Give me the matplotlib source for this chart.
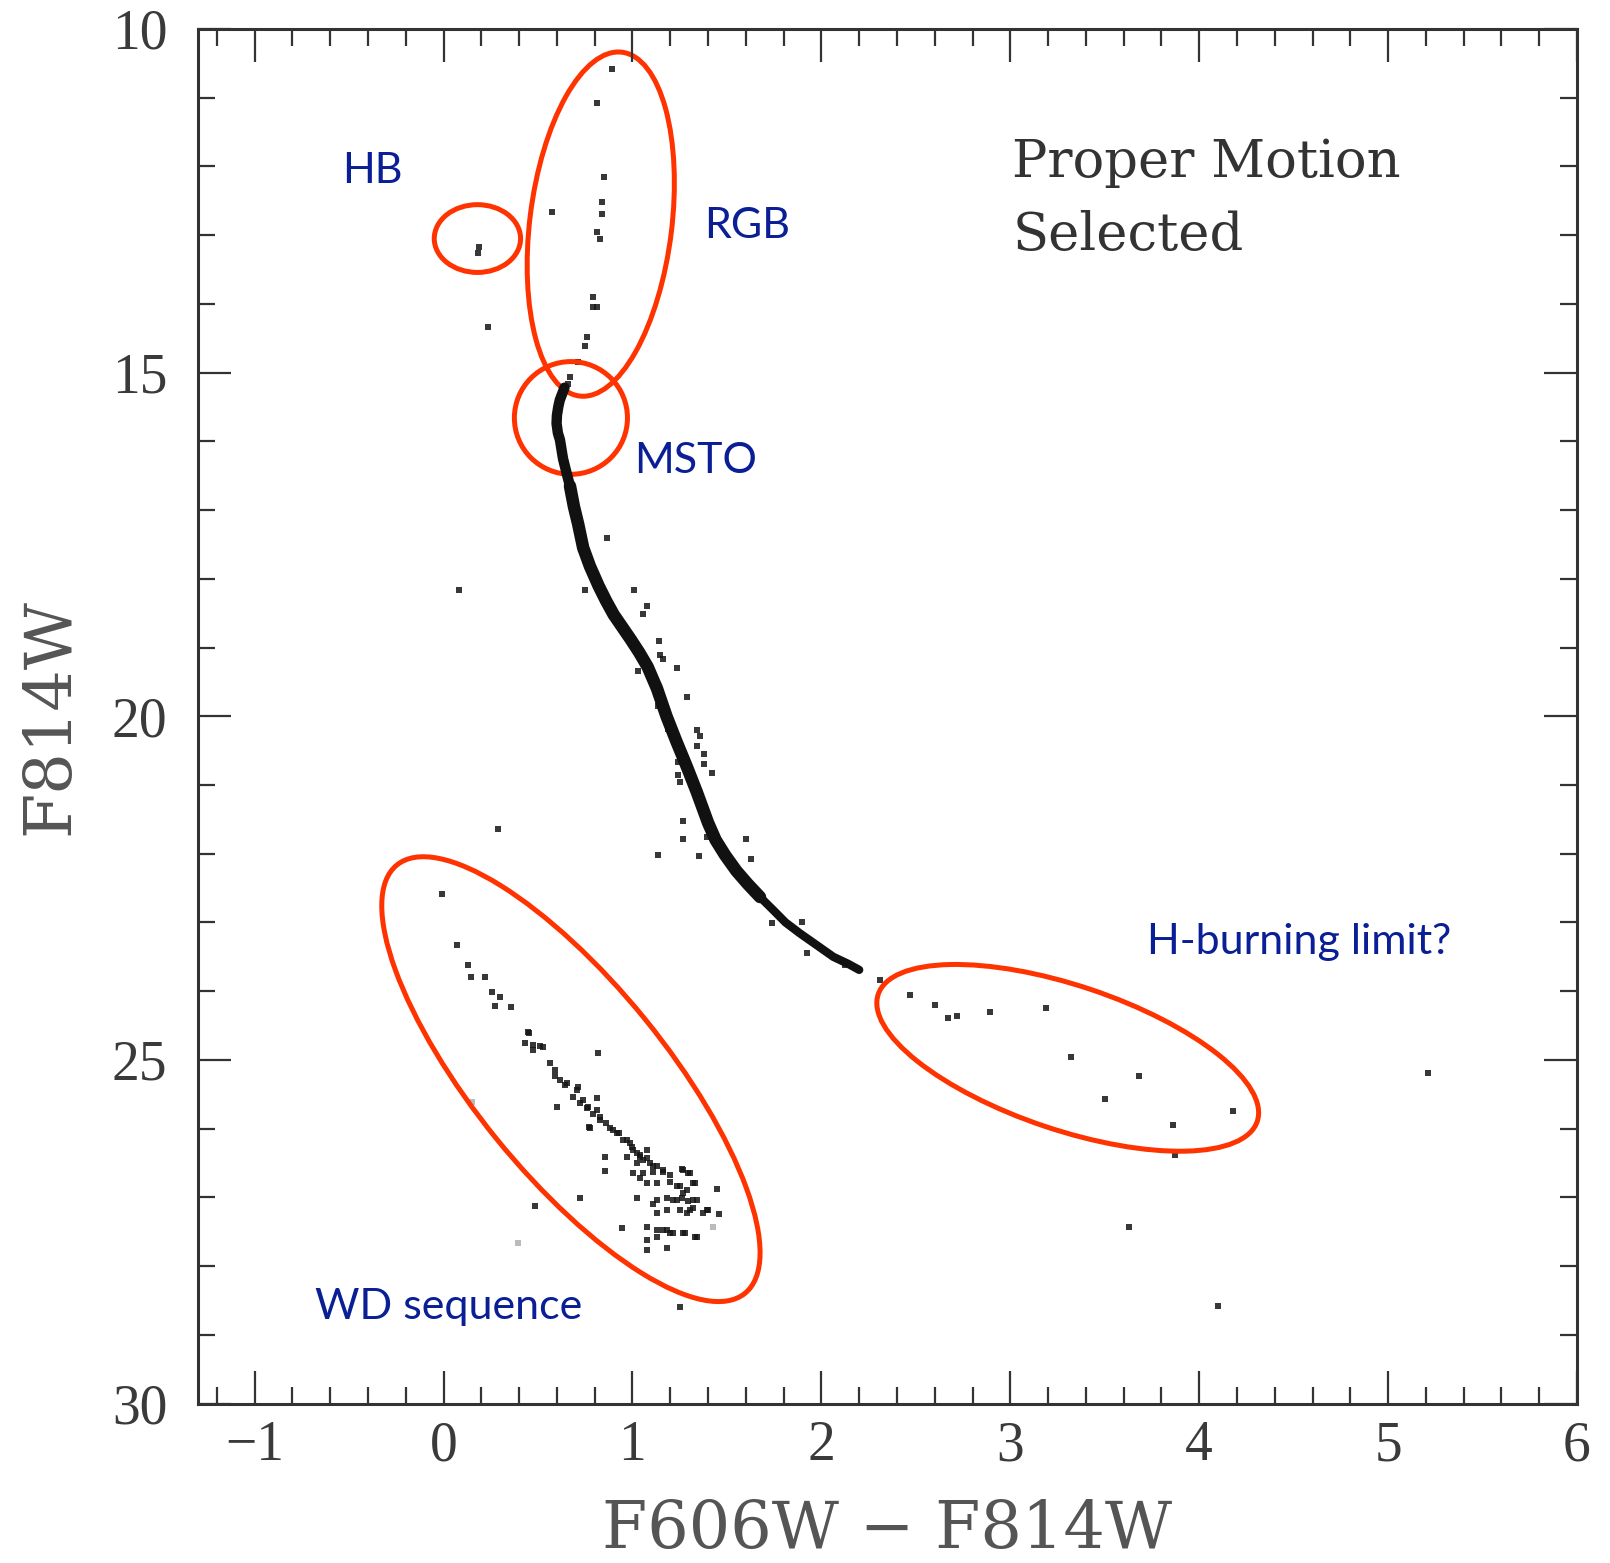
import matplotlib.pyplot as plt
import numpy as np
from matplotlib.patches import Ellipse

# (F606W - F814W, F814W) pairs for each group of stars
rgb_stars = [(0.89, 10.58), (0.81, 11.08), (0.849, 12.15), (0.84, 12.52), (0.837, 12.69),
             (0.81, 12.95), (0.83, 13.05), (0.572, 12.66), (0.793, 13.90), (0.793, 14.04),
             (0.81, 14.04), (0.758, 14.48), (0.749, 14.62), (0.713, 14.84), (0.669, 15.06),
             (0.66, 15.16)]
hb_stars = [(0.189, 13.17), (0.183, 13.26)]

# main-sequence ridge line (densely populated part)
ms_ridge = [(0.640, 15.22), (0.615, 15.40), (0.607, 15.50), (0.600, 15.62), (0.598, 15.74),
            (0.605, 15.88), (0.616, 15.98), (0.632, 16.25), (0.650, 16.45), (0.669, 16.65),
            (0.690, 16.95), (0.712, 17.20), (0.739, 17.55), (0.775, 17.82), (0.820, 18.10),
            (0.860, 18.32), (0.900, 18.52), (0.945, 18.70), (0.990, 18.88), (1.035, 19.07),
            (1.080, 19.28), (1.130, 19.60), (1.180, 20.00), (1.230, 20.35), (1.287, 20.73),
            (1.340, 21.10), (1.400, 21.55), (1.440, 21.80), (1.490, 22.02), (1.550, 22.25),
            (1.610, 22.44), (1.675, 22.63), (1.745, 22.82), (1.810, 23.00), (1.887, 23.16),
            (1.970, 23.32), (2.063, 23.50), (2.140, 23.60), (2.200, 23.69)]

ms_scatter = [(0.867, 17.40), (0.748, 18.16), (1.008, 18.16), (1.075, 18.40), (1.054, 18.51),
              (1.142, 18.90), (1.146, 19.11), (1.16, 19.17), (1.031, 19.34), (1.237, 19.30),
              (1.29, 19.72), (1.137, 19.85), (1.339, 20.20), (1.356, 20.29), (1.19, 20.18),
              (1.23, 20.44), (1.339, 20.44), (1.378, 20.55), (1.378, 20.69), (1.419, 20.83),
              (1.242, 20.66), (1.242, 20.86), (1.25, 20.95), (1.269, 21.53), (1.266, 21.79),
              (1.392, 21.76), (1.60, 21.79), (1.137, 22.02), (1.354, 22.03), (1.626, 22.08),
              (1.736, 23.01), (1.895, 22.99), (1.922, 23.45), (2.125, 23.62)]

# faint end of the main sequence
hbl_stars = [(2.31, 23.84), (2.47, 24.06), (2.60, 24.20), (2.67, 24.39), (2.72, 24.36),
             (2.89, 24.31), (3.19, 24.25), (3.32, 24.96), (3.68, 25.24), (3.50, 25.57),
             (4.18, 25.74), (3.86, 25.95), (3.87, 26.38)]

wd_stars = [(0.073, 23.33), (0.131, 23.62), (0.143, 23.80), (0.219, 23.79), (0.254, 24.01),
            (0.299, 24.08), (0.272, 24.21), (0.355, 24.23), (0.448, 24.60), (0.454, 24.61),
            (0.431, 24.76), (0.475, 24.78), (0.51, 24.80), (0.528, 24.81), (0.475, 24.86),
            (0.563, 25.05), (0.59, 25.15), (0.59, 25.24), (0.616, 25.29), (0.643, 25.36),
            (0.652, 25.34), (0.602, 25.69), (0.713, 25.40), (0.704, 25.44), (0.687, 25.54),
            (0.74, 25.58), (0.722, 25.63), (0.766, 25.68), (0.758, 25.70), (0.81, 25.73),
            (0.792, 25.78), (0.81, 25.56), (0.828, 25.83), (0.828, 25.87), (0.772, 25.97),
            (0.775, 25.99), (0.86, 25.92), (0.881, 25.99), (0.895, 26.02), (0.916, 26.06),
            (0.93, 26.07), (0.951, 26.16), (0.969, 26.17), (0.987, 26.21), (0.996, 26.26),
            (1.004, 26.31), (1.022, 26.36), (1.04, 26.38), (1.04, 26.41), (1.075, 26.43),
            (0.969, 26.41), (1.022, 26.50), (1.075, 26.31), (1.057, 26.46), (1.092, 26.50),
            (1.128, 26.55), (1.163, 26.60), (1.11, 26.55), (1.163, 26.63), (1.198, 26.67),
            (1.269, 26.60), (1.304, 26.65), (1.26, 26.59), (1.296, 26.64), (0.855, 26.41),
            (0.855, 26.61), (1.004, 26.65), (1.057, 26.65), (1.11, 26.63), (1.04, 26.72),
            (1.075, 26.79), (1.128, 26.79), (1.198, 26.77), (1.252, 26.84), (1.322, 26.79),
            (1.234, 26.84), (1.287, 26.89), (1.331, 26.79), (1.022, 27.01), (1.11, 27.09),
            (1.128, 27.04), (1.181, 27.01), (1.216, 27.04), (1.234, 27.04), (1.26, 27.01),
            (1.269, 26.94), (1.296, 27.06), (1.34, 27.04), (1.322, 27.04), (1.128, 27.23),
            (1.181, 27.18), (1.252, 27.18), (1.287, 27.23), (1.304, 27.18), (1.322, 27.16),
            (1.375, 27.23), (1.392, 27.18), (1.401, 27.18), (1.459, 27.24), (1.446, 26.88),
            (0.943, 27.45), (1.075, 27.43), (1.128, 27.48), (1.163, 27.48), (1.181, 27.48),
            (1.198, 27.52), (1.216, 27.52), (1.269, 27.52), (1.278, 27.52), (1.331, 27.57),
            (1.34, 27.57), (1.128, 27.57), (1.075, 27.62), (1.075, 27.77), (1.181, 27.74),
            (0.722, 27.01), (0.484, 27.12)]

field_stars = [(0.237, 14.33), (0.08, 18.17), (0.288, 21.64), (-0.01, 22.58), (0.819, 24.90),
               (5.21, 25.19), (3.63, 27.43), (4.10, 28.58), (1.252, 28.59)]
faint_stars = [(0.396, 27.67), (0.149, 25.61), (1.428, 27.43)]

x_major = np.arange(-1, 7, 1)
y_major = np.arange(10, 31, 5)

plt.rcParams['mathtext.default'] = 'regular'
fig = plt.figure(figsize=(16.1, 15.63), dpi=100)
ax = fig.add_axes([0.123, 0.102, 0.8565, 0.8795])

# ridge drawn in three parts: turnoff, upper main sequence, faint end
ridge = np.array(ms_ridge)
upper = ridge[:, 1] <= 16.65
mid = (ridge[:, 1] >= 16.65) & (ridge[:, 1] <= 22.63)
lower = ridge[:, 1] >= 22.63
for part, width in ((upper, 7.5), (mid, 9), (lower, 6)):
    ax.plot(ridge[part, 0], ridge[part, 1], color='#111111', lw=width,
            solid_capstyle='round', solid_joinstyle='round')

for group in (rgb_stars, hb_stars, ms_scatter, hbl_stars, wd_stars, field_stars):
    pts = np.array(group)
    ax.scatter(pts[:, 0], pts[:, 1], s=20, marker='s', color='#151515', alpha=0.85,
               linewidths=0)
pts = np.array(faint_stars)
ax.scatter(pts[:, 0], pts[:, 1], s=22, marker='s', color='#bbbbbb', linewidths=0)

ax.set_xlim(-1.3, 6)
ax.set_ylim(30, 10)
ax.set_xticks(x_major)
ax.set_xticks(np.arange(-1.2, 6.0, 0.2), minor=True)
ax.set_yticks(y_major)
ax.set_yticks(np.arange(10, 31, 1), minor=True)
ax.tick_params(which='both', direction='in', top=True, right=True, color='#333333', width=1.6)
ax.tick_params(which='major', length=24, labelsize=40, labelcolor='#3a3a3a',
               labelfontfamily=['Liberation Serif', 'DejaVu Serif'])
ax.tick_params(which='minor', length=12)
ax.tick_params(axis='x', pad=12)
ax.tick_params(axis='y', pad=22)
for spine in ax.spines.values():
    spine.set_linewidth(2.2)
    spine.set_color('#333333')

ax.set_xlabel('F606W \u2212 F814W', family='DejaVu Serif', fontsize=47, color='#555555')
ax.xaxis.label.set_verticalalignment('center')
ax.xaxis.set_label_coords(0.5, -0.092)
ax.set_ylabel('F814W', family='DejaVu Serif', fontsize=47, color='#555555')
ax.yaxis.label.set_verticalalignment('center')
ax.yaxis.set_label_coords(-0.107, 0.5)

ax.text(3.01, 11.94, 'Proper Motion', family='DejaVu Serif', fontsize=38, color='#333333',
        ha='left', va='center')
ax.text(3.01, 13.0, 'Selected', family='DejaVu Serif', fontsize=38, color='#333333',
        ha='left', va='center')

# region outlines: centre in data units, size in axes fraction
regions = [((0.179, 13.05), 0.0626, 0.0493, 0),
           ((0.832, 12.84), 0.252, 0.103, 83),
           ((0.674, 15.66), 0.082, 0.082, 0),
           ((0.674, 25.28), 0.401, 0.1385, -51),
           ((3.304, 24.97), 0.290, 0.105, -18.6)]
to_axes = ax.transData + ax.transAxes.inverted()
for centre, w, h, ang in regions:
    cx, cy = to_axes.transform(centre)
    ax.add_patch(Ellipse((cx, cy), w, h, angle=ang, transform=ax.transAxes,
                         fill=False, edgecolor='#ff3300', lw=3.6, clip_on=False))

labels = [('HB', -0.375, 12.06), ('RGB', 1.609, 12.87), ('MSTO', 1.332, 16.29),
          ('H-burning limit?', 4.527, 23.29), ('WD sequence', 0.027, 28.60)]
for text, lx, ly in labels:
    ax.text(lx, ly, text, family='Lato', fontsize=31, color='#0a1f96', ha='center', va='center')

fig.savefig('out.png', dpi=100)
